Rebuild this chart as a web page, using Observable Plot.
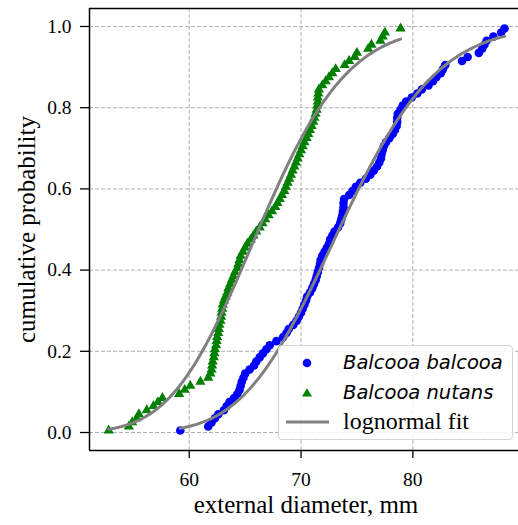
<!DOCTYPE html>
<html><head><meta charset="utf-8">
<script src="https://cdn.jsdelivr.net/npm/d3@7"></script>
<script src="https://cdn.jsdelivr.net/npm/@observablehq/plot@0.6"></script>
<style>
body{margin:0;background:#fff;}
#wrap{position:relative;width:518px;height:525px;overflow:hidden;}
#wrap svg text{font-family:"Liberation Serif","Times New Roman",serif !important;}
#legend{position:absolute;left:278px;top:345px;width:235px;height:95px;box-sizing:border-box;border:1px solid #d5d5d5;border-radius:4px;background:rgba(255,255,255,0.85);}
.row{position:absolute;left:0;height:30px;width:100%;}
.row svg{position:absolute;left:0;top:0;}
.row span{position:absolute;left:64px;top:50%;transform:translateY(-52%);white-space:nowrap;color:#000;}
.it{font-family:"DejaVu Sans",sans-serif;font-style:italic;font-size:19.5px;}
.rm{font-family:"Liberation Serif","Times New Roman",serif;font-size:24px;}
</style></head><body><div id="wrap"></div>
<script>
// Sorted external diameters (mm)
const balcooaDiam = [59.2,61.7,62.0,62.3,62.6,63.1,63.35,63.6,64.0,64.3,
64.5,64.6,64.7,64.85,65.0,65.4,65.8,66.0,66.3,66.6,
66.9,67.2,67.8,68.4,68.7,68.9,69.3,69.6,69.8,70.0,
70.15,70.3,70.45,70.55,70.8,71.0,71.15,71.3,71.4,71.5,
71.6,71.7,71.75,71.9,72.1,72.3,72.5,72.6,72.8,73.0,
73.3,73.5,73.6,73.7,73.75,73.8,73.8,73.85,74.3,74.6,
74.9,75.3,75.8,76.2,76.5,76.8,77.0,77.15,77.2,77.3,
77.4,77.6,77.9,78.2,78.4,78.55,78.6,78.6,78.65,78.9,
79.1,79.4,79.9,80.4,80.8,81.4,81.8,82.1,82.5,82.7,
82.9,84.4,84.9,85.9,86.2,86.4,86.6,87.2,87.9,88.2];
const nutansDiam = [52.8,54.6,54.9,55.3,55.5,56.2,56.8,57.2,57.6,59.1,
59.6,60.1,61.0,61.7,61.9,62.0,62.05,62.1,62.2,62.25,
62.3,62.4,62.45,62.5,62.6,62.65,62.7,62.8,62.85,62.9,
62.95,63.0,63.1,63.25,63.4,63.5,63.65,63.8,63.95,64.1,
64.3,64.4,64.5,64.6,64.8,65.0,65.2,65.5,65.75,66.0,
66.3,66.55,66.8,67.1,67.4,67.7,67.9,68.1,68.3,68.5,
68.65,68.8,68.95,69.1,69.25,69.4,69.55,69.7,69.85,70.0,
70.15,70.3,70.5,70.65,70.8,70.95,71.1,71.2,71.3,71.4,
71.45,71.5,71.5,71.55,71.6,71.9,72.2,72.5,72.8,73.1,
73.9,74.3,74.8,75.0,76.0,76.3,77.1,77.3,77.5,78.9];
// lognormal fit parameters: [balcooa, nutans]
const seriesNames = ["Balcooa balcooa","Balcooa nutans"];
const fitMedian = [73.4, 66.2];
const fitSigma = [0.093, 0.094];
const xTicks = [60,70,80];
const yTicks = [0.0,0.2,0.4,0.6,0.8,1.0];
const xDomain = [51.08, 89.45];
const yDomain = [-0.0443, 1.0443];

function erf(x){const t=1/(1+0.3275911*Math.abs(x));const y=1-(((((1.061405429*t-1.453152027)*t)+1.421413741)*t-0.284496736)*t+0.254829592)*t*Math.exp(-x*x);return x>=0?y:-y;}
const Phi = z => 0.5*(1+erf(z/Math.SQRT2));
const ecdf = arr => arr.map((d,i)=>({x:d, p:(i+0.5)/arr.length}));
function fitCurve(arr, k){
  const lo=d3.min(arr), hi=d3.max(arr), n=200, out=[];
  for(let i=0;i<=n;i++){const x=lo+(hi-lo)*i/n; out.push({x, p:Phi(Math.log(x/fitMedian[k])/fitSigma[k])});}
  return out;
}
const bal = ecdf(balcooaDiam), nut = ecdf(nutansDiam);
const serif = '"Liberation Serif","Times New Roman",serif';

const plot = Plot.plot({
  width:518, height:525, marginLeft:89, marginRight:0, marginTop:8, marginBottom:75,
  style:{fontFamily:serif, fontSize:"19.5px", background:"white", color:"black", overflow:"visible"},
  x:{domain:xDomain},
  y:{domain:yDomain},
  marks:[
    Plot.ruleX(xTicks,{stroke:"#b0b0b0", strokeWidth:1, strokeDasharray:"4,2"}),
    Plot.ruleY(yTicks,{stroke:"#b0b0b0", strokeWidth:1, strokeDasharray:"4,2"}),
    Plot.dot(bal,{x:"x", y:"p", r:4.3, fill:"#0000ff", symbol:"circle"}),
    Plot.dot(nut,{x:"x", y:"p", r:3.8, fill:"#008000", symbol:"triangle"}),
    Plot.line(fitCurve(balcooaDiam,0),{x:"x", y:"p", stroke:"#808080", strokeWidth:3}),
    Plot.line(fitCurve(nutansDiam,1),{x:"x", y:"p", stroke:"#808080", strokeWidth:3}),
    Plot.ruleY([yDomain[0], yDomain[1]],{stroke:"black", strokeWidth:1.5}),
    Plot.ruleX([xDomain[0]],{stroke:"black", strokeWidth:1.5}),
    Plot.axisX(xTicks,{tickSize:8, tickPadding:14, tickFormat:d=>String(d), label:null, fontSize:19.5, strokeWidth:1.3}),
    Plot.axisY(yTicks,{tickSize:9, tickPadding:9, tickFormat:d3.format(".1f"), label:null, fontSize:19.5, strokeWidth:1.3}),
    Plot.text(["external diameter, mm"],{frameAnchor:"bottom", dy:62, dx:2, lineAnchor:"bottom", fontSize:25}),
    Plot.text(["cumulative probability"],{frameAnchor:"left", dx:-63, rotate:-90, textAnchor:"middle", fontSize:25})
  ]
});
const wrap = document.getElementById("wrap");
wrap.appendChild(plot);

// legend
const lg = document.createElement("div"); lg.id="legend";
const rows = [
  {sym:'<circle cx="28" cy="15" r="4.3" fill="#0000ff"/>', text:seriesNames[0], cls:"it"},
  {sym:'<path d="M28,10.2L33,18.6L23,18.6Z" fill="#008000"/>', text:seriesNames[1], cls:"it"},
  {sym:'<line x1="7" x2="50" y1="15" y2="15" stroke="#808080" stroke-width="3"/>', text:"lognormal fit", cls:"rm"}
];
const centers=[17.3,46.7,75.7];
rows.forEach((r,i)=>{
  const d=document.createElement("div"); d.className="row"; d.style.top=(centers[i]-15)+"px";
  d.innerHTML='<svg width="60" height="30">'+r.sym+'</svg><span class="'+r.cls+'">'+r.text+'</span>';
  lg.appendChild(d);
});
wrap.appendChild(lg);
</script></body></html>
